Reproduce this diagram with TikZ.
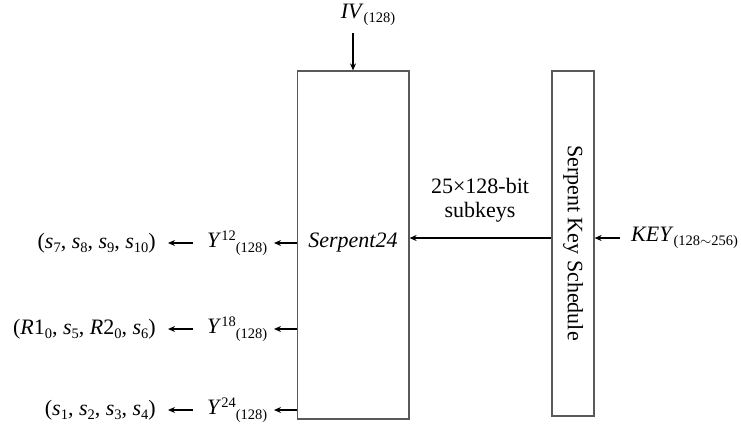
\documentclass[tikz,border=0pt]{standalone}
\usepackage{fontspec}
\setmainfont{Liberation Serif}
\usetikzlibrary{arrows.meta}
\newcommand{\tsb}[1]{\raisebox{-0.45ex}{\fontsize{14.5}{16}\selectfont #1}}
\newcommand{\tsp}[1]{\raisebox{0.75ex}{\fontsize{14.5}{16}\selectfont #1}}
\tikzset{
  box/.style={draw=black!65, line width=1.2pt, inner sep=0pt},
  arr/.style={draw=black, line width=1.6pt, -{Stealth[length=7pt,width=6pt]}},
  lbl/.style={inner sep=0pt, font=\fontsize{22}{26}\selectfont},
}
\begin{document}
\begin{tikzpicture}[x=1pt,y=-1pt]
\useasboundingbox (0,0) rectangle (741,434);
% boxes
\node[box, minimum width=111.5pt, minimum height=348pt] (serp) at (353.25,245) {};
\node[box, minimum width=42pt, minimum height=345pt] (ks) at (573,243.5) {};
\node[lbl] (serptxt) at (353,243) {\textit{Serpent24}};
\node[lbl, rotate=-90] (kstxt) at (573,243) {Serpent Key Schedule};
% IV
\node[lbl] (iv) at (368,15) {\textit{IV}\tsb{(128)}};
\coordinate (ivs) at (353,33);
\draw[arr] (ivs) -- (ivs |- serp.north);
% subkeys
\node[lbl, align=center] (sk) at (480,200) {25×128-bit\\[-2pt]subkeys};
\draw[arr] (ks.west |- 0,238) -- (serp.east |- 0,238);
% KEY
\node[lbl, anchor=west] (key) at (631,238) {\textit{KEY}\tsb{(128$\sim$256)}};
\coordinate (keys) at (620,238);
\draw[arr] (keys) -- (ks.east |- keys);
% outputs
\foreach \yy/\sup/\out [count=\i] in {243/12/{(\textit{s}\tsb{7}, \textit{s}\tsb{8}, \textit{s}\tsb{9}, \textit{s}\tsb{10})},
    329/18/{(\textit{R}1\tsb{0}, \textit{s}\tsb{5}, \textit{R}2\tsb{0}, \textit{s}\tsb{6})},
    410/24/{(\textit{s}\tsb{1}, \textit{s}\tsb{2}, \textit{s}\tsb{3}, \textit{s}\tsb{4})}}{
  \node[lbl, anchor=west] (y\i) at (207,\yy) {\textit{Y}\tsp{\sup}\tsb{(128)}};
  \node[lbl, anchor=east] (o\i) at (156,\yy) {\out};
  \coordinate (ya\i) at (274,\yy);
  \coordinate (oa\i) at (193,\yy);
  \coordinate (ob\i) at (168,\yy);
  \draw[arr] (serp.west |- ya\i) -- (ya\i);
  \draw[arr] (oa\i) -- (ob\i);
}
\end{tikzpicture}
\end{document}
